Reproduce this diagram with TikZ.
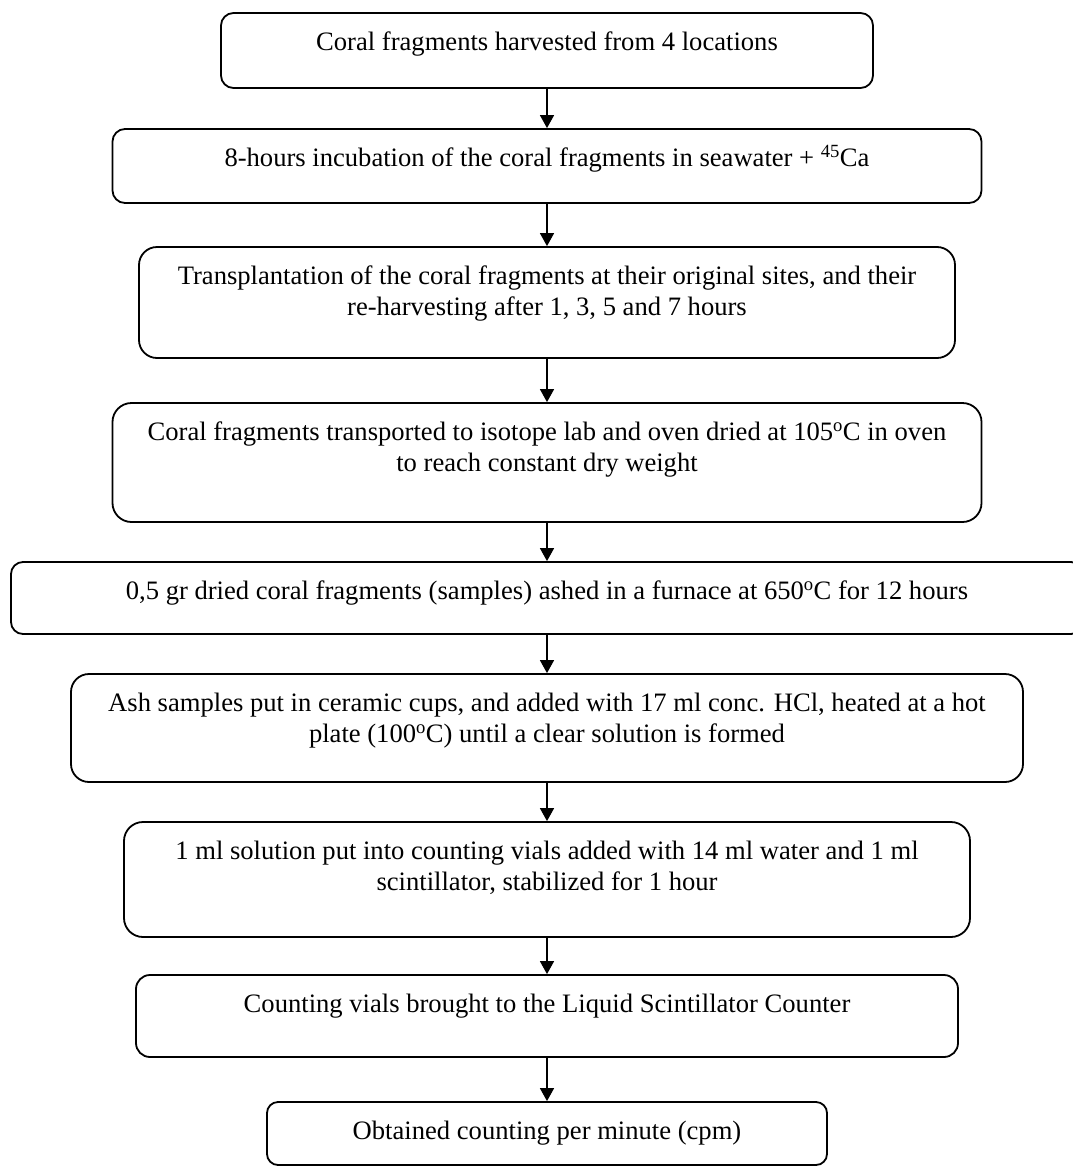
\documentclass[tikz,border=0pt]{standalone}
\usepackage{fontspec}
\setmainfont{Liberation Serif}
\usetikzlibrary{arrows.meta}
\newcommand{\fs}{\rule{0pt}{28pt}}
\begin{document}
\begin{tikzpicture}[x=1pt,y=-1pt,
  stepbox/.style={draw=black,line width=1.8pt,inner sep=0pt,fill=none},
  steptext/.style={anchor=north,inner sep=0pt,align=center,
    font=\fontsize{26.6}{30.6}\selectfont},
  flow/.style={line width=1.5pt,-{Triangle[length=13pt,width=14pt]}}]
\useasboundingbox (0,0) rectangle (1072,1167);
\fill[white] (0,0) rectangle (1072,1167);
% boxes
\node[stepbox,rounded corners=12.5pt,minimum width=652pt,minimum height=75pt] (b1) at (547,50.5) {};
\node[stepbox,rounded corners=12.5pt,minimum width=869pt,minimum height=74pt] (b2) at (547,166) {};
\node[stepbox,rounded corners=18pt,minimum width=816pt,minimum height=111pt] (b3) at (547,302.5) {};
\node[stepbox,rounded corners=19pt,minimum width=869pt,minimum height=119pt] (b4) at (547,462.5) {};
\node[stepbox,rounded corners=12pt,minimum width=1072pt,minimum height=72pt] (b5) at (547,598) {};
\node[stepbox,rounded corners=18pt,minimum width=952pt,minimum height=108pt] (b6) at (547,728) {};
\node[stepbox,rounded corners=19pt,minimum width=846pt,minimum height=115pt] (b7) at (547,879.5) {};
\node[stepbox,rounded corners=14pt,minimum width=822pt,minimum height=82pt] (b8) at (547,1016) {};
\node[stepbox,rounded corners=11pt,minimum width=560pt,minimum height=63pt] (b9) at (547,1133.5) {};
% texts
\node[steptext] (t1) at ([yshift=-10.5pt]b1.north) {\fs Coral fragments harvested from 4 locations};
\node[steptext] (t2) at ([yshift=-10.5pt]b2.north) {\fs 8-hours incubation of the coral fragments in seawater + \textsuperscript{45}Ca};
\node[steptext] (t3) at ([yshift=-10.5pt]b3.north) {\fs Transplantation of the coral fragments at their original sites, and their\\ re-harvesting after 1, 3, 5 and 7 hours};
\node[steptext] (t4) at ([yshift=-10.5pt]b4.north) {\fs Coral fragments transported to isotope lab and oven dried at 105\textsuperscript{o}C in oven\\ to reach constant dry weight};
\node[steptext] (t5) at ([yshift=-10.5pt]b5.north) {\fs 0,5 gr dried coral fragments (samples) ashed in a furnace at 650\textsuperscript{o}C for 12 hours};
\node[steptext] (t6) at ([yshift=-10.5pt]b6.north) {\fs Ash samples put in ceramic cups, and added with 17 ml conc. HCl, heated at a hot\\ plate (100\textsuperscript{o}C) until a clear solution is formed};
\node[steptext] (t7) at ([yshift=-10.5pt]b7.north) {\fs 1 ml solution put into counting vials added with 14 ml water and 1 ml\\ scintillator, stabilized for 1 hour};
\node[steptext] (t8) at ([yshift=-10.5pt]b8.north) {\fs Counting vials brought to the Liquid Scintillator Counter};
\node[steptext] (t9) at ([yshift=-10.5pt]b9.north) {\fs Obtained counting per minute (cpm)};
% arrows
\draw[flow] (b1.south) -- (b2.north);
\draw[flow] (b2.south) -- (b3.north);
\draw[flow] (b3.south) -- (b4.north);
\draw[flow] (b4.south) -- (b5.north);
\draw[flow] (b5.south) -- (b6.north);
\draw[flow] (b6.south) -- (b7.north);
\draw[flow] (b7.south) -- (b8.north);
\draw[flow] (b8.south) -- (b9.north);
\end{tikzpicture}
\end{document}
